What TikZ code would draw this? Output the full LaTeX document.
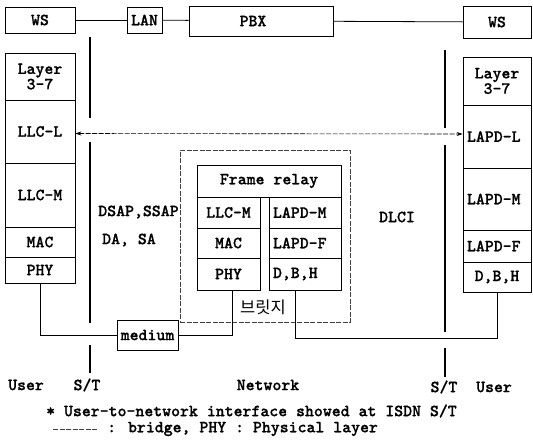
\documentclass[tikz,border=0pt]{standalone}
\usepackage{fontspec}
\newfontfamily\kr{Noto Sans CJK KR}
\newfontfamily\tyfont{lmmonolt10-bold.otf}[FakeBold=0.8]
\usetikzlibrary{arrows.meta}
\tikzset{
  lab/.style={font=\tyfont\fontsize{17}{13.5}\selectfont, inner sep=0pt, align=center},
  box/.style={draw, line width=0.8pt, lab},
  lbox/.style={box, align=left, inner xsep=4pt},
  bar/.style={line width=2.4pt},
  wire/.style={line width=0.8pt},
  dashline/.style={line width=0.6pt, black!75, dash pattern=on 5pt off 1.5pt},
  bothtips/.style={{Stealth[length=6pt,width=4pt]}-{Stealth[length=6pt,width=4pt]}}
}
\begin{document}
\begin{tikzpicture}[x=1pt,y=-1pt]
\useasboundingbox (0,0) rectangle (533,444);
% top row
\node[box, minimum width=70pt, minimum height=26pt] (ws1) at (40,20) {WS};
\node[box, minimum width=35pt, minimum height=26pt] (lan) at (144.5,20) {LAN};
\node[box, minimum width=144pt, minimum height=30pt] (pbx) at (261,21) {};
\node[lab] (pbxt) at (253,21) {PBX};
\node[box, minimum width=68pt, minimum height=32pt] (ws2) at (497,22) {WS};
\draw[wire] (ws1) -- (lan);
\draw[wire] (lan) -- (pbx);
\draw[wire] (pbx) -- (ws2);
% left stack
\node[box, minimum width=70pt, minimum height=47pt] (l37) at (40,76.5) {Layer\\3-7};
\node[box, minimum width=70pt, minimum height=63pt] (llcl) at (40,131.5) {LLC-L};
\node[box, minimum width=70pt, minimum height=64pt] (llcm) at (40,195) {LLC-M};
\node[box, minimum width=70pt, minimum height=30pt] (mac) at (40,242) {MAC};
\node[box, minimum width=70pt, minimum height=26pt] (phy) at (40,270) {PHY};
% right stack
\node[box, minimum width=68pt, minimum height=48pt] (r37) at (497,81) {Layer\\3-7};
\node[lbox, text width=60pt, minimum height=63pt] (lapdl) at (497,136.5) {LAPD-L};
\node[lbox, text width=60pt, minimum height=62pt] (lapdm) at (497,199) {LAPD-M};
\node[lbox, text width=60pt, minimum height=32pt] (lapdf) at (497,246) {LAPD-F};
\node[box, minimum width=68pt, minimum height=30pt] (rdbh) at (497,277) {D,B,H};
% bridge
\node[draw, dashline, minimum width=170pt, minimum height=172pt] (bridge) at (265,236) {};
\node[box, minimum width=144pt, minimum height=32pt] (fr) at (269,181) {Frame relay};
\node[box, minimum width=63pt, minimum height=31pt] (mllcm) at (228.5,212.5) {LLC-M};
\node[box, minimum width=63pt, minimum height=30pt] (mmac) at (228.5,243) {MAC};
\node[box, minimum width=63pt, minimum height=32pt] (mphy) at (228.5,274) {PHY};
\node[lbox, text width=64pt, minimum height=31pt] (mlapdm) at (305,212.5) {LAPD-M};
\node[lbox, text width=64pt, minimum height=30pt] (mlapdf) at (305,243) {LAPD-F};
\node[lbox, text width=64pt, minimum height=32pt] (mdbh) at (305,274) {D,B,H};
\node[lab, font=\kr\fontsize{16.5}{16.5}\selectfont] (brt) at (263,307) {브릿지};
% medium
\node[box, minimum width=61pt, minimum height=30pt] (medium) at (147.5,335) {medium};
% S/T bars
\draw[bar] (90,37) -- (90,118);
\draw[bar] (90,142) -- (90,323);
\draw[bar] (90,345) -- (90,373);
\draw[bar] (445,50) -- (445,128);
\draw[bar] (445,145) -- (445,332);
\draw[bar] (445,348) -- (445,377);
% connectors
\draw[dashline, black, bothtips] ([yshift=-2pt]llcl.east) -- ([yshift=2.5pt]lapdl.west);
\draw[wire] (phy.south) |- (medium.west);
\draw[wire] (medium.east) -| ([xshift=3.5pt]mphy.south);
\draw[wire] ([xshift=-10pt]mdbh.south) -- ++(0,48) -| (rdbh.south);
% labels
\node[lab] (dsap) at (138.5,212) {DSAP,SSAP};
\node[lab] (dasa) at (129,240) {DA, SA};
\node[lab] (dlci) at (397,217) {DLCI};
\node[lab, anchor=west] (user1) at (8,385) {User};
\node[lab] (st1) at (87,385) {S/T};
\node[lab] (net) at (268,385) {Network};
\node[lab] (st2) at (444,387) {S/T};
\node[lab, anchor=west] (user2) at (476,387) {User};
\node[lab, anchor=west] (cap1) at (46,411) {* User-to-network interface showed at ISDN S/T};
\draw[dashline] (53,429) -- (97,429);
\node[lab, anchor=west] (cap2) at (107,429) {: bridge, PHY : Physical layer};
\end{tikzpicture}
\end{document}
